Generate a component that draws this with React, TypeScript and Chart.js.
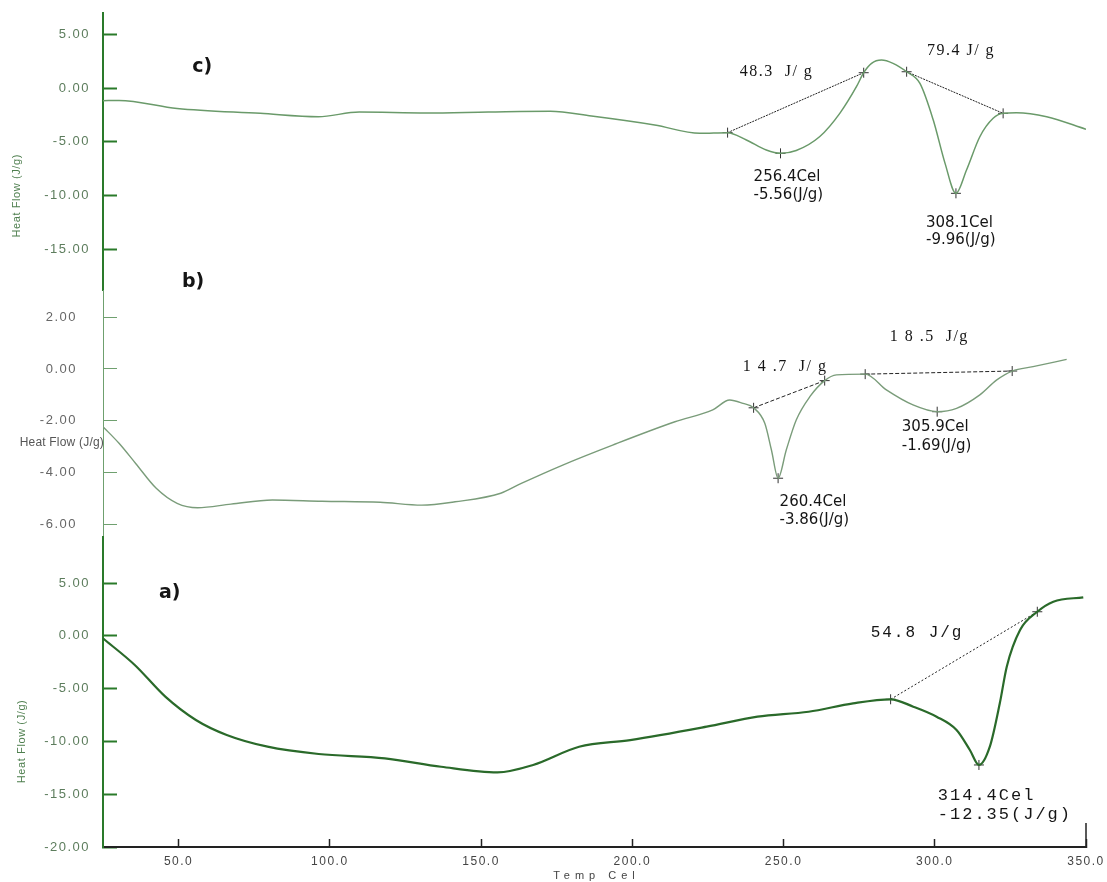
import React, { useEffect, useRef } from 'react';
import { Chart, registerables } from 'chart.js';

Chart.register(...registerables);

// ---- tick labels ----
const xTicks = [50, 100, 150, 200, 250, 300, 350];
const cTicks = [5, 0, -5, -10, -15];
const bTicks = [2, 0, -2, -4, -6];
const aTicks = [5, 0, -5, -10, -15, -20];

const yAxisTitle = 'Heat Flow (J/g)';
const xAxisTitle = 'Temp Cel';

// ---- curve c (top) ----
const cTemp = [25, 30.3, 49.5, 77, 96.2, 109.7, 131.9, 152.4, 172.9, 186.5, 207.4, 222.3, 231.5, 237.7, 244.3, 249.0, 254.2, 262, 268.6, 274.1, 276.5, 279.1, 282.4, 286.2, 290.7, 295.1, 299.5, 303.4, 307.0, 310.5, 314.9, 319.3, 322.6, 327, 337, 350];
const cFlow = [-1.18, -1.15, -1.89, -2.35, -2.66, -2.23, -2.32, -2.23, -2.16, -2.6, -3.43, -4.2, -4.14, -4.82, -5.75, -6.06, -5.8, -4.5, -2.35, 0.12, 1.42, 2.29, 2.6, 2.29, 1.51, 0.43, -2.97, -6.99, -9.77, -7.6, -4.52, -2.81, -2.35, -2.29, -2.66, -3.83];

// ---- curve b (middle) ----
const bTemp = [25, 30.3, 35.8, 42.6, 49.5, 56.3, 67.3, 81, 97.4, 116.6, 130.4, 141.4, 156.5, 163.3, 177, 193.5, 214.1, 226.6, 232.2, 236.6, 240.1, 243.8, 246, 248.2, 250.9, 254.2, 258.7, 263.6, 267.5, 277, 284, 292.8, 300.8, 307.2, 314.9, 320.4, 325.6, 332.5, 343.6];
const bFlow = [-2.23, -2.87, -3.65, -4.61, -5.19, -5.36, -5.22, -5.06, -5.11, -5.15, -5.26, -5.13, -4.8, -4.42, -3.71, -2.94, -2.04, -1.58, -1.2, -1.33, -1.5, -2.1, -3.13, -4.22, -3.13, -1.97, -1.07, -0.45, -0.23, -0.2, -0.81, -1.39, -1.65, -1.52, -1.0, -0.43, -0.08, 0.09, 0.37];

// ---- curve a (bottom) ----
const aTemp = [25, 35.5, 45.6, 55.7, 65.9, 79.4, 96.3, 118.2, 136.8, 155.4, 167.2, 182.4, 199.3, 224.6, 241.4, 258.3, 273, 285.4, 292.9, 300.6, 307.2, 311.6, 314.6, 318.2, 321.5, 323.8, 328.2, 333.9, 339.2, 349.1];
const aFlow = [-0.24, -2.76, -5.76, -7.97, -9.39, -10.5, -11.19, -11.6, -12.4, -12.93, -12.23, -10.5, -9.87, -8.6, -7.66, -7.19, -6.39, -6.01, -6.71, -7.66, -8.92, -10.81, -12.23, -10.5, -6.39, -2.92, 0.55, 2.28, 3.23, 3.65];

// ---- integration baselines & peak markers ----
const cBaseTemp1 = [231.5, 276.5];
const cBaseFlow1 = [-4.14, 1.42];
const cBaseTemp2 = [290.7, 322.6];
const cBaseFlow2 = [1.51, -2.35];
const cPeakTemp = [249.0, 307.0];
const cPeakFlow = [-6.06, -9.77];

const bBaseTemp1 = [240.1, 263.6];
const bBaseFlow1 = [-1.5, -0.45];
const bBaseTemp2 = [277.0, 325.6];
const bBaseFlow2 = [-0.2, -0.08];
const bPeakTemp = [248.2, 300.8];
const bPeakFlow = [-4.22, -1.65];

const aBaseTemp = [285.4, 333.9];
const aBaseFlow = [-6.01, 2.28];
const aPeakTemp = [314.6];
const aPeakFlow = [-12.23];

// ---- annotations: [text, temperature, heat flow, kind] ----
const cNotes: [string, number, number, string][] = [
  ['c)', 54.5, 1.95, 'panel'],
  ['48.3  J/ g', 235.5, 1.48, 'energy'],
  ['79.4 J/ g', 297.4, 3.43, 'energy'],
  ['256.4Cel', 240.1, -8.26, 'peak'],
  ['-5.56(J/g)', 240.1, -9.93, 'peak'],
  ['308.1Cel', 297.1, -12.52, 'peak'],
  ['-9.96(J/g)', 297.1, -14.1, 'peak'],
];
const bNotes: [string, number, number, string][] = [
  ['b)', 51.1, 3.36, 'panel'],
  ['1 4 .7  J/ g', 236.5, 0.08, 'energy'],
  ['1 8 .5  J/g', 285.1, 1.24, 'energy'],
  ['305.9Cel', 289.1, -2.24, 'peak'],
  ['-1.69(J/g)', 289.1, -2.98, 'peak'],
  ['260.4Cel', 248.7, -5.14, 'peak'],
  ['-3.86(J/g)', 248.7, -5.84, 'peak'],
];
const aNotes: [string, number, number, string][] = [
  ['a)', 43.5, 4.05, 'panel'],
  ['54.8 J/g', 278.8, 0.27, 'energyMono'],
  ['314.4Cel', 301, -15.13, 'peakMono'],
  ['-12.35(J/g)', 301, -16.93, 'peakMono'],
];

const noteFonts: Record<string, { font: string; sp: string }> = {
  panel: { font: 'bold 19px "DejaVu Sans"', sp: '0px' },
  energy: { font: '16px "Liberation Serif"', sp: '1.5px' },
  peak: { font: '15px "DejaVu Sans"', sp: '0px' },
  energyMono: { font: '16px "Liberation Mono"', sp: '2px' },
  peakMono: { font: '17px "Liberation Mono"', sp: '2px' },
};

const toPts = (xs: number[], ys: number[]) => xs.map((x, i) => ({ x, y: ys[i] }));

const notesPlugin = {
  id: 'dscNotes',
  beforeDraw(chart: any) {
    chart.ctx.letterSpacing = '1.5px';
  },
  afterDraw(chart: any) {
    const ctx = chart.ctx;
    const xs = chart.scales.x;
    ctx.save();
    const draw = (notes: [string, number, number, string][], axis: string) => {
      const ys = chart.scales[axis];
      for (const [text, t, v, kind] of notes) {
        const f = noteFonts[kind];
        ctx.font = f.font;
        ctx.letterSpacing = f.sp;
        ctx.fillStyle = '#151515';
        ctx.textAlign = 'left';
        ctx.textBaseline = 'middle';
        ctx.fillText(text, xs.getPixelForValue(t), ys.getPixelForValue(v));
      }
    };
    draw(cNotes, 'yc');
    draw(bNotes, 'yb');
    draw(aNotes, 'ya');

    // taller end tick at the right end of the temperature axis
    const xEnd = xs.getPixelForValue(xTicks[xTicks.length - 1]);
    ctx.strokeStyle = '#222';
    ctx.lineWidth = 1.5;
    ctx.beginPath();
    ctx.moveTo(xEnd, xs.top);
    ctx.lineTo(xEnd, xs.top - 24);
    ctx.stroke();

    // y-axis titles
    ctx.letterSpacing = '0.6px';
    ctx.font = '11px "Liberation Sans"';
    ctx.textBaseline = 'middle';
    ctx.textAlign = 'center';
    const yc = chart.scales.yc;
    const ya = chart.scales.ya;
    const yb = chart.scales.yb;
    ctx.fillStyle = '#4f7f4f';
    ctx.save();
    ctx.translate(17, yc.getPixelForValue(-10));
    ctx.rotate(-Math.PI / 2);
    ctx.fillText(yAxisTitle, 0, 0);
    ctx.restore();
    ctx.save();
    ctx.translate(22, ya.getPixelForValue(-10));
    ctx.rotate(-Math.PI / 2);
    ctx.fillText(yAxisTitle, 0, 0);
    ctx.restore();
    ctx.fillStyle = '#555';
    ctx.font = '12px "Liberation Sans"';
    ctx.letterSpacing = '0.2px';
    ctx.textAlign = 'right';
    ctx.fillText(yAxisTitle, yb.right + 1, yb.getPixelForValue(-2.86));

    // x-axis title
    ctx.font = '11px "Liberation Sans"';
    ctx.letterSpacing = '5px';
    ctx.textAlign = 'center';
    ctx.fillStyle = '#444';
    ctx.fillText(xAxisTitle, (xs.left + xs.right) / 2 + 2, 876);
    ctx.restore();
  },
};

function yScale(ticks: number[], min: number, max: number, weight: number, stackWeight: number, strong: boolean, pad: number) {
  const col = strong ? '#2a7a2a' : '#6fa06f';
  return {
    type: 'linear',
    position: 'left',
    stack: 'dsc',
    stackWeight,
    weight,
    min,
    max,
    afterBuildTicks: (s: any) => {
      s.ticks = ticks.map((v) => ({ value: v }));
    },
    afterFit: (s: any) => {
      s.width = 103;
      s.paddingTop = 0;
      s.paddingBottom = 0;
    },
    grid: {
      drawOnChartArea: false,
      drawTicks: true,
      tickLength: -14,
      tickWidth: strong ? 2 : 1,
      tickColor: col,
    },
    border: { display: true, color: col, width: strong ? 2 : 1 },
    ticks: {
      autoSkip: false,
      padding: pad,
      color: strong ? '#5d7d5d' : '#666',
      font: { family: 'Liberation Sans', size: 13 },
      callback: (v: any) => Number(v).toFixed(2),
    },
  };
}

export default function App() {
  const ref = useRef<HTMLCanvasElement>(null);

  useEffect(() => {
    const lineDs = (xs: number[], ys: number[], axis: string, color: string, width: number) => ({
      data: toPts(xs, ys),
      yAxisID: axis,
      borderColor: color,
      borderWidth: width,
      pointRadius: 0,
      cubicInterpolationMode: 'monotone',
      fill: false,
    });
    const baseDs = (xs: number[], ys: number[], axis: string, dash: number[]) => ({
      data: toPts(xs, ys),
      yAxisID: axis,
      borderColor: '#222',
      borderWidth: 1,
      borderDash: dash,
      pointStyle: 'cross',
      pointRadius: 5,
      pointBorderColor: '#333',
      pointBorderWidth: 1,
      tension: 0,
      fill: false,
    });
    const peakDs = (xs: number[], ys: number[], axis: string) => ({
      data: toPts(xs, ys),
      yAxisID: axis,
      showLine: false,
      pointStyle: 'cross',
      pointRadius: 5,
      pointBorderColor: '#333',
      pointBorderWidth: 1,
    });

    const chart = new Chart(ref.current as HTMLCanvasElement, {
      type: 'line',
      data: {
        datasets: [
          lineDs(cTemp, cFlow, 'yc', '#6a9a6a', 1.5),
          lineDs(bTemp, bFlow, 'yb', '#7a9c7a', 1.4),
          lineDs(aTemp, aFlow, 'ya', '#2a6a2a', 2.2),
          baseDs(cBaseTemp1, cBaseFlow1, 'yc', [2, 1]),
          baseDs(cBaseTemp2, cBaseFlow2, 'yc', [2, 1]),
          peakDs(cPeakTemp, cPeakFlow, 'yc'),
          baseDs(bBaseTemp1, bBaseFlow1, 'yb', [4, 2]),
          baseDs(bBaseTemp2, bBaseFlow2, 'yb', [4, 2]),
          peakDs(bPeakTemp, bPeakFlow, 'yb'),
          baseDs(aBaseTemp, aBaseFlow, 'ya', [2, 2]),
          peakDs(aPeakTemp, aPeakFlow, 'ya'),
        ] as any,
      },
      options: {
        responsive: false,
        animation: false,
        layout: { padding: { top: 13, right: 21, left: 0, bottom: 0 } },
        plugins: { legend: { display: false }, tooltip: { enabled: false } },
        scales: {
          x: {
            type: 'linear',
            position: 'bottom',
            min: 25,
            max: 350,
            afterBuildTicks: (s: any) => {
              s.ticks = xTicks.map((v) => ({ value: v }));
            },
            afterFit: (s: any) => {
              s.height = 35;
              s.paddingLeft = 0;
              s.paddingRight = 0;
            },
            grid: { drawOnChartArea: false, tickLength: -8, tickWidth: 1.5, tickColor: '#222' },
            border: { color: '#222', width: 2 },
            ticks: {
              autoSkip: false,
              maxRotation: 0,
              padding: 15,
              color: '#444',
              font: { family: 'Liberation Sans', size: 12 },
              callback: (v: any) => Number(v).toFixed(1),
            },
          },
          yc: yScale(cTicks, -18.74, 6.96, 3, 277, true, 27),
          yb: yScale(bTicks, -6.49, 3.05, 2, 247, false, 40),
          ya: yScale(aTicks, -20, 9.36, 1, 310, true, 27),
        } as any,
      },
      plugins: [notesPlugin],
    } as any);
    return () => chart.destroy();
  }, []);

  return (
    <div style={{ position: 'fixed', left: 0, top: 0, width: 1107, height: 882, background: '#fff' }}>
      <canvas ref={ref} width={1107} height={882} style={{ display: 'block' }} />
    </div>
  );
}
